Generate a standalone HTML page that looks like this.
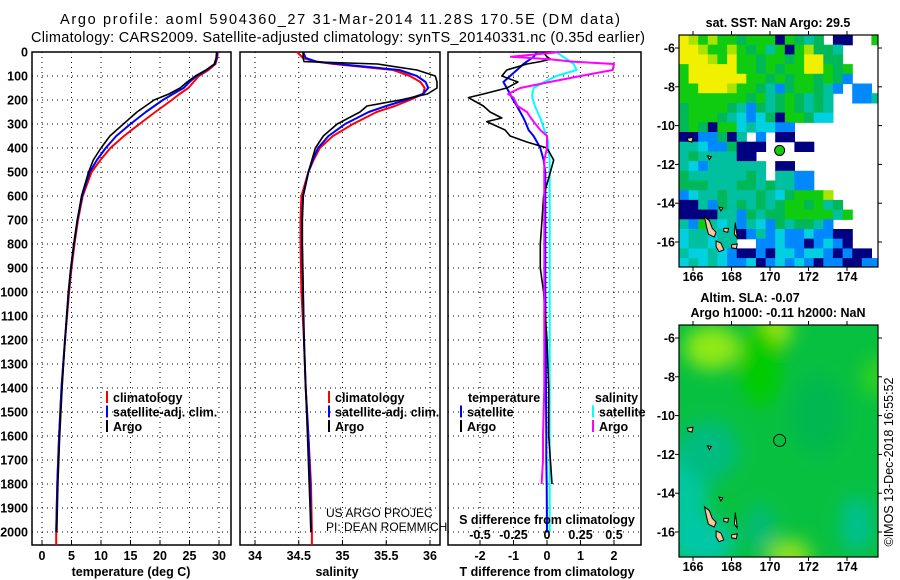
<!DOCTYPE html>
<html><head><meta charset="utf-8"><style>
html,body{margin:0;padding:0;background:#fff}
svg{display:block;font-family:"Liberation Sans",Arial,sans-serif}
.tk{font-size:12.5px;font-weight:bold}
</style></head><body>
<svg id="s" width="900" height="580" viewBox="0 0 900 580" xmlns="http://www.w3.org/2000/svg">
<rect width="900" height="580" fill="#fff"/>
<text x="340" y="24" font-size="14.5" text-anchor="middle" textLength="560">Argo profile: aoml 5904360_27 31-Mar-2014 11.28S 170.5E (DM data)</text>
<text x="338" y="42" font-size="14.5" text-anchor="middle" textLength="614">Climatology: CARS2009. Satellite-adjusted climatology: synTS_20140331.nc (0.35d earlier)</text>
<g id="g"></g>
</svg>
<script>
// ---- data ----
const tDepths=[0,25,50,75,100,125,150,175,200,250,300,350,400,450,500,600,700,800,900,1000,1200,1400,1600,1800,2000];
const tArgo=[29.6,29.5,29.2,27.8,26.0,24.6,23.4,21.5,19.0,16.1,13.8,11.5,10.0,8.7,7.9,6.7,6.0,5.4,4.9,4.5,3.9,3.4,3.0,2.7,2.5];
const tClim=[29.8,29.7,29.4,28.2,26.6,25.7,24.8,23.3,22.0,19.2,16.5,13.9,11.6,9.9,8.4,6.9,6.1,5.5,5.0,4.6,3.9,3.3,2.9,2.6,2.4];
const tSat=[29.7,29.6,29.3,27.9,26.2,25.0,24.0,22.2,20.5,17.6,15.0,12.6,10.8,9.3,8.1,6.8,6.0,5.4,4.9,4.5,3.9,3.3,2.9,2.6,2.4];
const sDepths=[0,25,40,50,75,100,125,150,175,200,225,250,300,350,400,450,500,600,700,800,1000,1200,1400,1600,1800,2000];
const sArgo=[34.55,34.55,34.56,35.4,35.85,36.06,36.08,36.08,35.97,35.66,35.28,35.2,34.94,34.78,34.69,34.65,34.61,34.55,34.54,34.54,34.55,34.56,34.58,34.60,34.62,34.64];
const sClim=[34.48,34.55,34.7,34.9,35.58,35.77,35.89,35.94,35.92,35.77,35.6,35.39,35.12,34.89,34.74,34.67,34.61,34.53,34.52,34.52,34.53,34.56,34.58,34.61,34.64,34.65];
const sSat=[34.55,34.58,34.7,34.95,35.65,35.85,35.95,35.98,35.92,35.72,35.5,35.3,35.03,34.84,34.72,34.66,34.61,34.55,34.54,34.54,34.55,34.56,34.58,34.61,34.63,34.64];
const dDepths=[0,20,30,40,50,75,100,125,150,175,190,225,250,275,290,325,350,375,400,450,500,550,600,700,800,900,1000,1200,1400,1600,1700,1800,2000];
const dTArgo=[-0.12,0.0,0.1,-0.2,-0.6,-1.2,-1.35,-0.87,-1.2,-1.9,-2.35,-1.9,-1.7,-1.35,-1.8,-1.25,-1.1,-0.6,0,0.2,0.1,0,-0.1,-0.15,-0.2,-0.2,-0.1,0.0,0.05,0.05,0.1,0.15,0.15];
const dTSat=[-0.3,-0.4,-0.5,-0.6,-0.7,-0.9,-1.1,-1.3,-1.2,-1.1,-1.05,-0.9,-0.8,-0.7,-0.65,-0.55,-0.4,-0.3,-0.2,-0.1,-0.05,-0.05,-0.05,-0.05,-0.05,-0.05,-0.05,-0.04,-0.03,-0.02,-0.02,-0.01,0];
const dSArgo=[0.1,-0.27,0.02,0.19,0.5,0.49,0.25,0.02,-0.2,-0.29,-0.25,-0.22,-0.15,-0.12,-0.1,-0.05,0,0,0,-0.02,-0.02,-0.02,-0.02,-0.02,-0.02,-0.02,-0.02,-0.02,-0.02,-0.03,-0.03,-0.04,-0.02];
const dSSat=[0.07,0.12,0.15,0.17,0.2,0.22,0.07,-0.02,-0.1,-0.11,-0.11,-0.09,-0.07,-0.05,-0.04,-0.02,0,0.01,0.01,0.02,0.02,0.02,0.02,0.02,0.02,0.02,0.02,0.02,0.02,0.02,0.02,0.02,0.02];
const depthTicks=[0,100,200,300,400,500,600,700,800,900,1000,1100,1200,1300,1400,1500,1600,1700,1800,1900,2000];
const tTicks=[0,5,10,15,20,25,30];
const sTicks=[34,34.5,35,35.5,36];
const sTickLabels=["34","34.5","35","35.5","36"];
const dTTicks=[-2,-1,0,1,2];
const dSTicks=[-0.5,-0.25,0,0.25,0.5];
const dSTickLabels=["-0.5","-0.25","0","0.25","0.5"];
const lonTicks=[166,168,170,172,174];
const latTicks=[-6,-8,-10,-12,-14,-16];
const sstGrid=[
"YyGyGGgGGGnGgtg.nn..G","YYyGGyGgGtGnGyggt....","YYYyGYGGgGGgGYYgg....","GYYYYYGGgGgGGYYGgG...",
"GYYYYYYGGgGgGGgGgb...","GGYYYyGGgtbgGGgtb.bb.","GGGGGGGgGtgGgtgt..bbt","gGGGGgtbgtgGgtgt.....",
"gGGGgtcbcgnGGgcc.....","gGgnGGctccbb.........","nnbbgnt.b.nn.........","ttcbbgnnn...nn.......",
"tgttttnn.............","tcbtttttt.nn.........","gttttttgt.ttbb.......","gggtttggtgttbb.......",
"bcttgtttgtcgGGGy.....","nntbgtgtgtgGGgGtg....","nnnnttbgtggGGGGGtG...","tbGtctbtcbgtggtb.....",
"cttcttnbtbcbbcbbnn...","cttctt..bbcbbnbcbn...","tcctcbnnbnccbccbnbnn.","ctctcbbcnbcbcbnbbnnbb"];
const sstColors={Y:"#f0f000",y:"#a8e400",G:"#10cc10",g:"#00b858",t:"#00c0a0",c:"#00d0e0",b:"#0088ff",n:"#000080"};
const argoLon=170.5, argoLat=-11.28;

const NS="http://www.w3.org/2000/svg";
const G=document.getElementById('g');
function mk(tag,attrs,parent){const e=document.createElementNS(NS,tag);for(const k in attrs)e.setAttribute(k,attrs[k]);(parent||G).appendChild(e);return e;}
function txt(x,y,s,attrs,parent){const e=mk('text',Object.assign({x:x,y:y},attrs||{}),parent);e.textContent=s;return e;}
const yD=d=>52+d*0.24;
const TOP=52,BOT=545;

function panel(name,x0,x1,gridXs,xf){
  const g=mk('g',{});
  
  
  gridXs.forEach(v=>{const x=xf(v);const l=mk('line',{x1:x,x2:x,y1:TOP,y2:BOT,stroke:'#000','stroke-width':1,'stroke-dasharray':'1,4'},g);
    });
  depthTicks.forEach(d=>{if(d===0)return;const y=yD(d);const l=mk('line',{x1:x0,x2:x1,y1:y,y2:y,stroke:'#000','stroke-width':1,'stroke-dasharray':'1,4'},g);
    });
  const r=mk('rect',{x:x0,y:TOP,width:x1-x0,height:BOT-TOP,fill:'none',stroke:'#000','stroke-width':1.5},g);
  
  gridXs.forEach(v=>{const x=xf(v);mk('line',{x1:x,x2:x,y1:BOT,y2:BOT-5,stroke:'#000'},g);});
  return g;
}
function line(name,depths,vals,xf,color,w){
  const pts=depths.map((d,i)=>xf(vals[i]).toFixed(1)+','+yD(d).toFixed(1)).join(' ');
  const p=mk('polyline',{points:pts,fill:'none',stroke:color,'stroke-width':w||2,'stroke-linejoin':'round'});
  
  
}
// depth labels
depthTicks.forEach(d=>{const t=txt(28,yD(d)+4.5,String(d),{class:'tk','text-anchor':'end'});
  });

// panel 1 temperature
const xT=v=>42+v*5.9;
panel('temperature-panel',32,231,tTicks,xT);
line('temperature-climatology-line',tDepths.concat([2054]),tClim.concat([2.4]),xT,'#ff0000');
line('temperature-satellite-line',tDepths,tSat,xT,'#0000ff');
line('temperature-argo-line',tDepths,tArgo,xT,'#000000',1.6);
tTicks.forEach(v=>{const t=txt(xT(v),560,String(v),{class:'tk','text-anchor':'middle'});});
let t1=txt(131,576,'temperature (deg C)',{class:'tk','text-anchor':'middle'});

// panel 2 salinity
const xS=v=>255+(v-34)*87.5;
panel('salinity-panel',240,440,sTicks,xS);
line('salinity-climatology-line',sDepths.concat([2054]),sClim.concat([34.65]),xS,'#ff0000');
line('salinity-satellite-line',sDepths,sSat,xS,'#0000ff');
line('salinity-argo-line',sDepths,sArgo,xS,'#000000',1.6);
sTicks.forEach((v,i)=>{const t=txt(xS(v),560,sTickLabels[i],{class:'tk','text-anchor':'middle'});});
let t2=txt(337,576,'salinity',{class:'tk','text-anchor':'middle'});

// panel 3 differences
const xDT=v=>547+v*33.5;
const xDS=v=>547+v*134;
panel('difference-panel',448,641,dTTicks,xDT);
line('salinity-satellite-diff-line',dDepths,dSSat,xDS,'#00ffff');
line('temperature-satellite-diff-line',dDepths,dTSat,xDT,'#0000ff');
line('temperature-argo-diff-line',dDepths.slice(0,32),dTArgo.slice(0,32),xDT,'#000000',1.6);
line('salinity-argo-diff-line',dDepths.slice(0,32),dSArgo.slice(0,32),xDS,'#ff00ff');
dTTicks.forEach(v=>{const t=txt(xDT(v),560,String(v),{class:'tk','text-anchor':'middle'});});
dSTicks.forEach((v,i)=>{const t=txt(xDS(v),539,dSTickLabels[i],{class:'tk','text-anchor':'middle'});});
let t3=txt(547,524,'S difference from climatology',{class:'tk','text-anchor':'middle'});
let t4=txt(547,576,'T difference from climatology',{class:'tk','text-anchor':'middle'});

// legends
function legendEntry(x,y,color,label){
  const g=mk('g',{});
  
  
  mk('line',{x1:x,x2:x,y1:y-11,y2:y+1,stroke:color,'stroke-width':2},g);
  txt(x+6,y,label,{class:'tk'},g);
}
[[107,'#ff0000','climatology'],[107,'#0000ff','satellite-adj. clim.'],[107,'#000','Argo']].forEach((e,i)=>legendEntry(e[0],402+i*14.5,e[1],e[2]));
[[329,'#ff0000','climatology'],[329,'#0000ff','satellite-adj. clim.'],[329,'#000','Argo']].forEach((e,i)=>legendEntry(e[0],402+i*14.5,e[1],e[2]));
let lt=txt(468,402,'temperature',{class:'tk'});
let ls=txt(595,402,'salinity',{class:'tk'});
legendEntry(461,416.5,'#0000ff','satellite');legendEntry(461,431,'#000','Argo');
legendEntry(593,416.5,'#00ffff','satellite');legendEntry(593,431,'#ff00ff','Argo');
let c1=txt(326,517,'US ARGO PROJEC',{'font-size':12});
let c2=txt(326,531,'PI: DEAN ROEMMICH',{'font-size':12});

// maps
function mapFrame(name,y0){
  const x0=679,x1=878,y1=y0+232;
  const lonX=l=>693+(l-166)*19.25;
  const latY=l=>y0+13+(-6-l)*19.4;
  return {x0,x1,y0,y1,lonX,latY};
}
function mapAxes(m,g){
  mk('rect',{x:m.x0,y:m.y0,width:m.x1-m.x0,height:m.y1-m.y0,fill:'none',stroke:'#000','stroke-width':1.2},g);
  lonTicks.forEach(v=>{const x=m.lonX(v);mk('line',{x1:x,x2:x,y1:m.y1,y2:m.y1+4,stroke:'#000'},g);mk('line',{x1:x,x2:x,y1:m.y0,y2:m.y0-4,stroke:'#000'},g);
    const t=txt(x,m.y1+14,String(v),{class:'tk','text-anchor':'middle'},g);});
  latTicks.forEach(v=>{const y=m.latY(v);mk('line',{x1:m.x0-4,x2:m.x0,y1:y,y2:y,stroke:'#000'},g);mk('line',{x1:m.x1,x2:m.x1+4,y1:y,y2:y,stroke:'#000'},g);
    const t=txt(675,y+4.5,String(v),{class:'tk','text-anchor':'end'},g);});
}
function islands(m,g){
  const polys=[[[166.6,-14.7],[166.85,-14.9],[167.0,-15.3],[167.2,-15.5],[167.1,-15.75],[166.8,-15.6],[166.7,-15.2]],
    [[167.2,-15.95],[167.45,-16.05],[167.6,-16.4],[167.35,-16.5],[167.2,-16.25]],
    [[167.6,-15.3],[167.85,-15.3],[167.8,-15.5],[167.6,-15.45]],
    [[168.0,-16.15],[168.3,-16.1],[168.25,-16.35],[168.0,-16.3]],
    [[167.35,-14.2],[167.55,-14.25],[167.45,-14.4]],
    [[165.7,-10.65],[166.0,-10.6],[165.95,-10.85],[165.75,-10.8]],
    [[166.75,-11.55],[166.95,-11.6],[166.85,-11.75]],
    [[168.2,-15.0],[168.3,-15.8],[168.15,-15.6]]];
  polys.forEach(p=>{const e=mk('polygon',{points:p.map(q=>m.lonX(q[0]).toFixed(1)+','+m.latY(q[1]).toFixed(1)).join(' '),fill:'#f8c898',stroke:'#000','stroke-width':1},g);
    });
}
// top SST map
const m1=mapFrame('sst',35);
const gm1=mk('g',{});


const clip1=mk('clipPath',{id:'c1'});mk('rect',{x:m1.x0,y:m1.y0,width:m1.x1-m1.x0,height:m1.y1-m1.y0},clip1);
const cells=mk('g',{'clip-path':'url(#c1)'},gm1);
sstGrid.forEach((row,r)=>{for(let c=0;c<row.length;c++){const ch=row[c];if(ch==='.')continue;
  const lon=165.27+c*0.5,lat=-5.33-r*0.5;const x=m1.lonX(lon),y=m1.latY(lat);
  mk('rect',{x:x.toFixed(1),y:y.toFixed(1),width:10.2,height:10.3,fill:sstColors[ch]},cells);}});
islands(m1,cells);
mapAxes(m1,gm1);
const mk1=mk('circle',{cx:m1.lonX(argoLon),cy:m1.latY(argoLat),r:5,fill:'#10cc10',stroke:'#000','stroke-width':1},gm1);

let mt1=txt(778,27,'sat. SST: NaN Argo: 29.5',{class:'tk','font-size':13.5,'text-anchor':'middle'});

// bottom SLA map
const m2=mapFrame('sla',325);
const gm2=mk('g',{});


const defs=mk('defs',{});
const f=mk('filter',{id:'bl',x:'-50%',y:'-50%',width:'200%',height:'200%'},defs);mk('feGaussianBlur',{stdDeviation:9},f);
const clip2=mk('clipPath',{id:'c2'},defs);mk('rect',{x:m2.x0,y:m2.y0,width:m2.x1-m2.x0,height:m2.y1-m2.y0},clip2);
const sl=mk('g',{'clip-path':'url(#c2)'},gm2);
mk('rect',{x:m2.x0,y:m2.y0,width:m2.x1-m2.x0,height:m2.y1-m2.y0,fill:'#08c040'},sl);
const blobs=mk('g',{filter:'url(#bl)'},sl);
[[167.0,-6.5,28,22,'#90e818'],[170.2,-5.6,18,16,'#a0e810'],[171.0,-17.2,22,16,'#90e020'],[169.5,-7.5,20,40,'#00cc00'],
 [165.6,-14.5,22,60,'#00c8a0'],[166.8,-16.5,26,22,'#00c8a8'],[174.5,-15.6,16,28,'#00c090'],[169.5,-15.8,14,24,'#00bc78'],
 [172.5,-10,28,40,'#00b850'],[175.5,-8,14,20,'#30d020'],[166.8,-11.8,30,30,'#00bc80']].forEach(b=>{
  mk('ellipse',{cx:m2.lonX(b[0]),cy:m2.latY(b[1]),rx:b[2],ry:b[3],fill:b[4]},blobs);});
islands(m2,sl);
mapAxes(m2,gm2);
const mk2=mk('circle',{cx:m2.lonX(argoLon),cy:m2.latY(argoLat),r:6,fill:'none',stroke:'#000','stroke-width':1},gm2);

let mt2=txt(750,302,'Altim. SLA: -0.07',{class:'tk','font-size':13.5,'text-anchor':'middle'});
let mt3=txt(778,317,'Argo h1000: -0.11 h2000: NaN',{class:'tk','font-size':13.5,'text-anchor':'middle'});
let stamp=txt(0,0,'©IMOS 13-Dec-2018 16:55:52',{'font-size':12.5,'text-anchor':'middle',transform:'translate(893,462) rotate(-90)'});

</script>
</body></html>
